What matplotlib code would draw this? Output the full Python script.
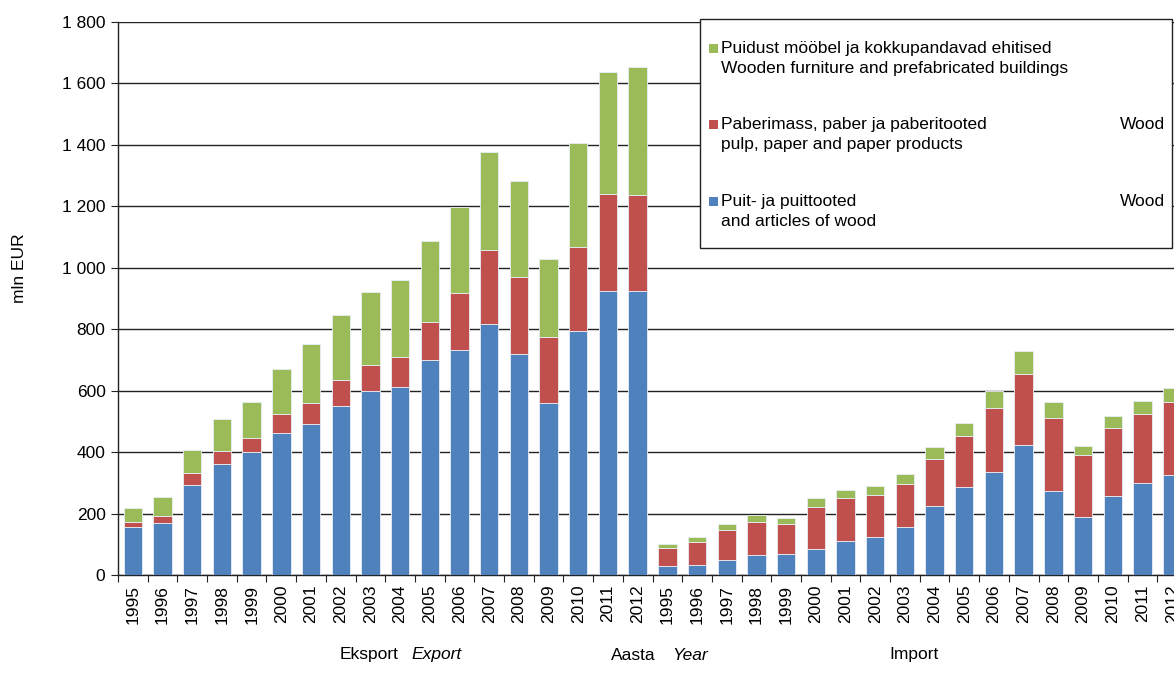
import numpy as np
import matplotlib
matplotlib.use('Agg')
import matplotlib.pyplot as plt
import matplotlib.patches as mpatches
from matplotlib.ticker import FuncFormatter, FixedLocator

plt.rcParams['font.family'] = ['Liberation Sans', 'DejaVu Sans']

years = [str(y) for y in range(1995, 2013)]
labels = years + years

# export 1995-2012 then import 1995-2012, mln EUR
wood = [157, 169, 294, 362, 400, 461, 490, 550, 599, 611, 699, 731, 817, 719, 561, 793, 925, 923,
        29, 33, 48, 64, 67, 85, 110, 123, 157, 224, 286, 336, 424, 272, 190, 257, 298, 325]
paper = [15, 24, 37, 43, 47, 63, 71, 85, 84, 100, 124, 188, 241, 250, 215, 276, 314, 315,
         58, 73, 100, 110, 100, 137, 142, 137, 140, 155, 165, 208, 230, 240, 202, 223, 225, 238]
furniture = [45, 61, 75, 102, 117, 146, 192, 211, 238, 248, 264, 280, 318, 315, 253, 336, 399, 416,
             14, 17, 17, 21, 20, 28, 25, 30, 31, 37, 44, 54, 74, 51, 28, 37, 44, 45]

c_blue, c_red, c_green = '#4F81BD', '#C0504D', '#9BBB59'
FS = 12.5

W, H = 1174, 691
fig = plt.figure(figsize=(W / 100, H / 100), dpi=100)

def fx(px): return px / W
def fy(py): return 1 - py / H

ax = fig.add_axes([fx(118), fy(575), 1069 / W, 553 / H])
x = np.arange(len(labels)) + 0.5
wood, paper, furniture = map(np.array, (wood, paper, furniture))
kw = dict(width=0.62, edgecolor='#e8eef5', linewidth=0.6, zorder=3)
ax.bar(x, wood, color=c_blue, **kw)
ax.bar(x, paper, bottom=wood, color=c_red, **kw)
ax.bar(x, furniture, bottom=wood + paper, color=c_green, **kw)

ax.set_xlim(0, len(labels))
ax.set_ylim(0, 1800)
ax.set_yticks(np.arange(0, 1801, 200))
ax.yaxis.set_major_formatter(FuncFormatter(lambda v, p: f'{int(v):,}'.replace(',', ' ')))
ax.yaxis.grid(True, color='#222222', lw=1.0, zorder=0)
ax.set_axisbelow(True)

ax.xaxis.set_major_locator(FixedLocator(np.arange(0, len(labels) + 1)))
ax.xaxis.set_minor_locator(FixedLocator(x))
ax.set_xticklabels([])
ax.set_xticklabels(labels, minor=True, rotation=90)
ax.tick_params(axis='x', which='major', length=5, direction='out', color='#222')
ax.tick_params(axis='x', which='minor', length=0, labelsize=FS, pad=7)
ax.tick_params(axis='y', length=5, direction='out', color='#222', labelsize=FS, pad=4)
for s in ['top', 'right']:
    ax.spines[s].set_visible(False)
for s in ['left', 'bottom']:
    ax.spines[s].set_color('#222')
    ax.spines[s].set_linewidth(1.0)

fig.text(fx(20), fy(268), 'mln EUR', rotation=90, ha='center', va='center', fontsize=FS)

# legend box drawn by hand (it is cut off on the right in the original)
fig.patches.append(mpatches.Rectangle((fx(700), fy(248)), fx(1172) - fx(700), fy(19) - fy(248),
                                      transform=fig.transFigure, facecolor='white',
                                      edgecolor='#222', lw=1.0, zorder=5))
leg = [(c_green, 48, 'Puidust mööbel ja kokkupandavad ehitised\nWooden furniture and prefabricated buildings', False),
       (c_red, 124, 'Paberimass, paber ja paberitooted\npulp, paper and paper products', True),
       (c_blue, 201, 'Puit- ja puittooted\nand articles of wood', True)]
for col, yy, txt, wood_word in leg:
    fig.patches.append(mpatches.Rectangle((fx(709), fy(yy + 5)), 9 / W, 9 / H,
                                          transform=fig.transFigure, facecolor=col,
                                          edgecolor='none', zorder=6))
    fig.text(fx(721), fy(yy - 7), txt, ha='left', va='top', fontsize=FS,
             linespacing=1.4, zorder=7)
    if wood_word:
        fig.text(fx(1120), fy(yy - 7), 'Wood', ha='left', va='top', fontsize=FS, zorder=7)

fig.text(fx(340), fy(655), 'Eksport', ha='left', va='center', fontsize=FS)
fig.text(fx(411), fy(655), 'Export', ha='left', va='center', fontsize=FS, style='italic')
fig.text(fx(611), fy(655), 'Aasta', ha='left', va='center', fontsize=FS)
fig.text(fx(672), fy(655), 'Year', ha='left', va='center', fontsize=FS, style='italic')
fig.text(fx(889), fy(655), 'Import', ha='left', va='center', fontsize=FS)

fig.savefig('out.png', dpi=100)
